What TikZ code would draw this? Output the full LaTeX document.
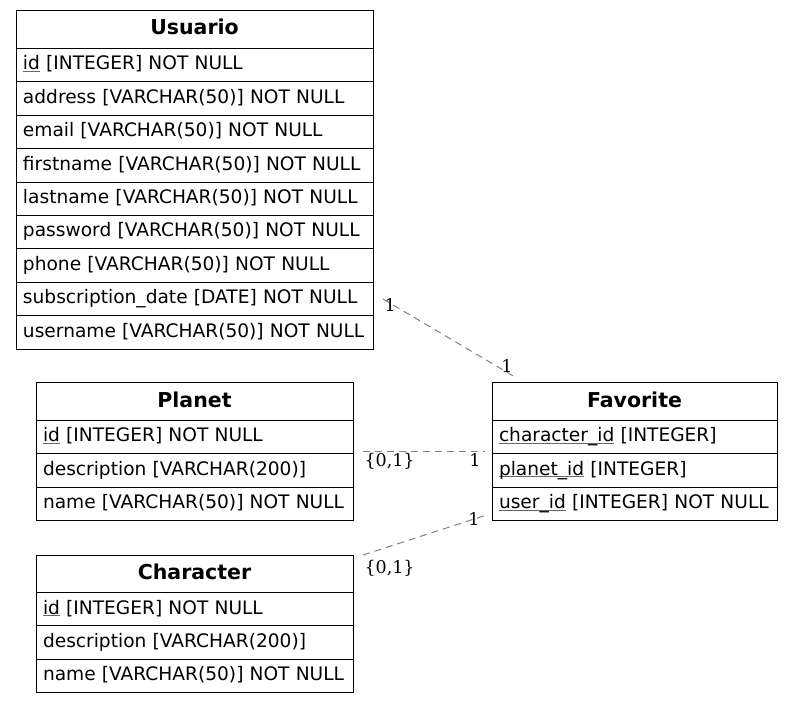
\documentclass[tikz,border=0pt]{standalone}
\usepackage{fontspec}
\setmainfont{DejaVu Sans}
\newfontfamily\cardfont{DejaVu Serif}
\usetikzlibrary{positioning}
\newcommand\keyname[1]{\setbox0\hbox{#1}\rlap{\textcolor{black!60}{\rule[-1.8pt]{\wd0}{0.8pt}}}\box0{}}

\begin{document}
\begin{tikzpicture}[x=1pt, y=-1pt, node distance=0pt,
                tablehead/.style = {
                    rectangle, draw=black,
                    line width=1pt, outer sep=0pt,
                    minimum width=#1, minimum height=37.5pt,
                    text height=13pt, text depth=2.5pt,
                    font=\fontsize{20.5}{24}\selectfont\bfseries,
                    align=center
                },
                tablerow/.style = {
                    rectangle, draw=black,
                    line width=1pt, outer sep=0pt,
                    text width=#1, inner xsep=7pt,
                    text height=13pt, text depth=3.4pt,
                    minimum height=33.4pt, align=left,
                    font=\fontsize{18.6}{22}\selectfont
                },
                link/.style = {
                    draw=gray, line width=1pt,
                    dash pattern=on 7pt off 5pt
                },
                card/.style = {
                    font=\cardfont\fontsize{17.5}{20}\selectfont,
                    inner sep=1pt
                }
                ]

                \useasboundingbox (0,0) rectangle (793,703);

                \node[tablehead=357pt, anchor=north west] (user) at (16,11) {Usuario};
                \node[tablerow=343pt, below=of user] (uid) {\keyname{id} [INTEGER] NOT NULL};
                \node[tablerow=343pt, below=of uid] (uaddress) {address [VARCHAR(50)] NOT NULL};
                \node[tablerow=343pt, below=of uaddress] (uemail) {email [VARCHAR(50)] NOT NULL};
                \node[tablerow=343pt, below=of uemail] (ufirst) {firstname [VARCHAR(50)] NOT NULL};
                \node[tablerow=343pt, below=of ufirst] (ulast) {lastname [VARCHAR(50)] NOT NULL};
                \node[tablerow=343pt, below=of ulast] (upass) {password [VARCHAR(50)] NOT NULL};
                \node[tablerow=343pt, below=of upass] (uphone) {phone [VARCHAR(50)] NOT NULL};
                \node[tablerow=343pt, below=of uphone] (usub) {subscription\_date [DATE] NOT NULL};
                \node[tablerow=343pt, below=of usub] (uname) {username [VARCHAR(50)] NOT NULL};

                \node[tablehead=317pt, anchor=north west] (planet) at (36,383) {Planet};
                \node[tablerow=303pt, below=of planet] (pid) {\keyname{id} [INTEGER] NOT NULL};
                \node[tablerow=303pt, below=of pid] (pdesc) {description [VARCHAR(200)]};
                \node[tablerow=303pt, below=of pdesc] (pname) {name [VARCHAR(50)] NOT NULL};

                \node[tablehead=317pt, anchor=north west] (chr) at (36,555) {Character};
                \node[tablerow=303pt, below=of chr] (cid) {\keyname{id} [INTEGER] NOT NULL};
                \node[tablerow=303pt, below=of cid] (cdesc) {description [VARCHAR(200)]};
                \node[tablerow=303pt, below=of cdesc] (cname) {name [VARCHAR(50)] NOT NULL};

                \node[tablehead=285pt, anchor=north west] (fav) at (492,383) {Favorite};
                \node[tablerow=271pt, below=of fav] (fchar) {\keyname{character\_id} [INTEGER]};
                \node[tablerow=271pt, below=of fchar] (fplanet) {\keyname{planet\_id} [INTEGER]};
                \node[tablerow=271pt, below=of fplanet] (fuser) {\keyname{user\_id} [INTEGER] NOT NULL};


                \path[link] ([xshift=10pt]usub.east) -- ([xshift=23pt, yshift=6pt]fav.north west)
                    node[card, pos=0, anchor=north west, xshift=0pt, yshift=2pt] {1}
                    node[card, pos=1, anchor=south east, xshift=-1pt, yshift=3pt] {1};
                \path[link] ([xshift=10pt, yshift=-14pt]pid.east) -- ([xshift=-7pt, yshift=-14pt]fchar.west)
                    node[card, pos=0, anchor=north west, yshift=-1pt] {\{0,1\}}
                    node[card, pos=1, anchor=north east, xshift=-3pt, yshift=-1pt] {1};
                \path[link] ([xshift=10pt]chr.north east) -- ([xshift=-7pt, yshift=-11.5pt]fuser.west)
                    node[card, pos=0, anchor=north west, yshift=-4pt] {\{0,1\}}
                    node[card, pos=1, anchor=east, xshift=-4pt, yshift=-4pt] {1};
            \end{tikzpicture}
\end{document}
